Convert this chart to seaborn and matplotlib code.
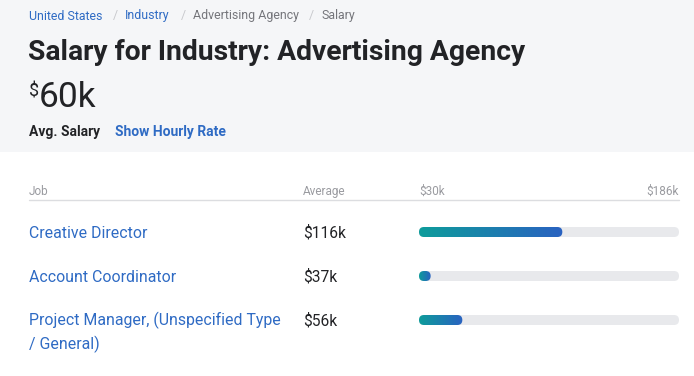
import numpy as np
import pandas as pd
import matplotlib.pyplot as plt
import seaborn as sns
import matplotlib.transforms as mtransforms
from matplotlib.patches import FancyBboxPatch, Rectangle
from matplotlib.lines import Line2D
from matplotlib.colors import LinearSegmentedColormap

# --- datos ---
breadcrumb = ["United States", "Industry", "Advertising Agency", "Salary"]
breadcrumb_x = [29, 125, 193, 321]
separator_x = [113, 181, 309]
title = "Salary for Industry: Advertising Agency"
avg_salary = "60k"
jobs = ["Creative Director", "Account Coordinator",
        "Project Manager, (Unspecified Type\n/ General)"]
salaries = [116, 37, 56]
salary_labels = ["$116k", "$37k", "$56k"]
range_min = 30
range_max = 186
range_labels = ["$30k", "$186k"]

df = pd.DataFrame({"job": jobs, "salary": salaries})
df["track"] = range_max

W, H = 694, 376
def fx(px):
    return px / W
def fy(px):
    return 1 - px / H

BLUE = "#2f6bc4"
DARK = "#222326"
GREY = "#9a9ba0"

sns.set_theme(style="white")
plt.rcParams["font.family"] = ["Roboto", "DejaVu Sans"]

fig = plt.figure(figsize=(W / 100, H / 100), dpi=100)
fig.patch.set_facecolor("white")
fig.add_artist(Rectangle((0, fy(152)), 1, 152 / H, transform=fig.transFigure,
                         facecolor="#f5f6f8", edgecolor="none", zorder=0))

# cabecera
for txt, x in zip(breadcrumb, breadcrumb_x):
    color = BLUE if txt in ("United States", "Industry") else "#75767b"
    fig.text(fx(x), fy(19.5), txt, fontsize=8.9, color=color, va="baseline")
for x in separator_x:
    fig.text(fx(x), fy(19.5), "/", fontsize=8.9, color="#c8c9cd", va="baseline")

fig.text(fx(28), fy(59.5), title, fontsize=20.3, fontweight="bold", color=DARK, va="baseline")
fig.text(fx(29), fy(97), "$", fontsize=13, color=DARK, va="baseline")
fig.text(fx(39), fy(107), avg_salary, fontsize=25.5, color=DARK, va="baseline")
fig.text(fx(29), fy(136.5), "Avg. Salary", fontsize=10, fontweight="bold", color=DARK, va="baseline")
fig.text(fx(115), fy(136.5), "Show Hourly Rate", fontsize=10, fontweight="bold", color=BLUE, va="baseline")

# encabezado de tabla
fig.text(fx(29), fy(195), "Job", fontsize=8.5, color=GREY, va="baseline")
fig.text(fx(303), fy(195), "Average", fontsize=8.5, color=GREY, va="baseline")
fig.text(fx(419), fy(195), range_labels[0], fontsize=8.5, color=GREY, va="baseline")
fig.text(fx(679), fy(195), range_labels[1], fontsize=8.5, color=GREY, va="baseline", ha="right")
fig.add_artist(Line2D([fx(29), fx(679)], [fy(200), fy(200)], transform=fig.transFigure,
                      color="#dcdde0", lw=1))

# barras
ax = fig.add_axes([fx(419), fy(342), 260 / W, 132 / H])
bar_h = 10 / 44
sns.barplot(data=df, x="track", y="job", color="#e8e9ec", width=bar_h, ax=ax)
sns.barplot(data=df, x="salary", y="job", color="#1f7fb0", width=bar_h, ax=ax)
ax.set_xlim(range_min, range_max)
ax.set_ylim(2.5, -0.5)
ax.axis("off")

bbox = ax.get_window_extent()
x_per_px = (range_max - range_min) / bbox.width
y_per_px = 3 / bbox.height
aspect = y_per_px / x_per_px
radius = 5 * x_per_px

grad = LinearSegmentedColormap.from_list("grad", ["#0e9c9b", "#2a62c1"])
patches = list(ax.patches)
n = len(jobs)
for i, p in enumerate(patches):
    y0, h, w = p.get_y(), p.get_height(), p.get_width()
    p.remove()
    is_track = i < n
    fb = FancyBboxPatch((range_min, y0), w - range_min, h,
                        boxstyle=f"round,pad=0,rounding_size={radius}",
                        mutation_aspect=aspect,
                        facecolor="#e8e9ec" if is_track else "none",
                        edgecolor="none", zorder=1 if is_track else 2)
    ax.add_patch(fb)
    if not is_track:
        img = ax.imshow(np.linspace(0, 1, 256).reshape(1, -1), cmap=grad,
                        extent=[range_min, w, y0 + h, y0], aspect="auto",
                        interpolation="bicubic", zorder=3)
        img.set_clip_path(fb)
ax.set_xlim(range_min, range_max)
ax.set_ylim(2.5, -0.5)

# etiquetas de filas (va=baseline alinea la ultima linea)
trans = mtransforms.blended_transform_factory(fig.transFigure, ax.transData)
base_off = 5.5 / 44
line_step = 24 / 44
for i, (job, lab) in enumerate(zip(jobs, salary_labels)):
    extra = job.count("\n") * line_step
    ax.text(fx(29), i + base_off + extra, job, transform=trans, fontsize=11.4, color=BLUE,
            va="baseline", linespacing=1.5)
    ax.text(fx(303), i + base_off, lab, transform=trans, fontsize=11.2, color=DARK,
            va="baseline")

fig.savefig("out.png", dpi=100)
